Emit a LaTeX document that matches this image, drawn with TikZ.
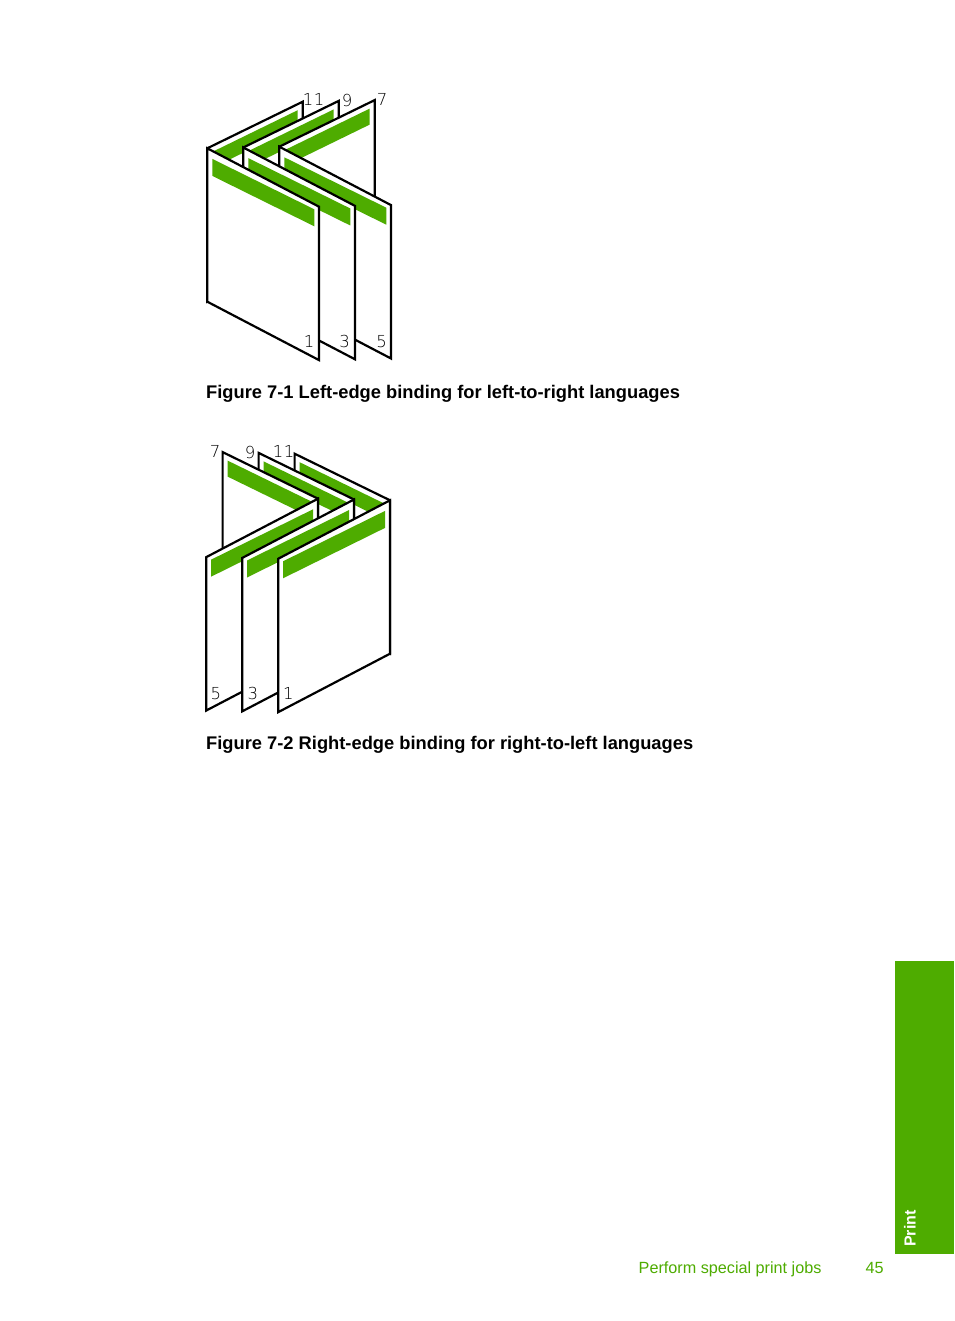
\documentclass[tikz,border=0pt]{standalone}
\usepackage{fontspec}
\setmainfont{Liberation Sans}
\newfontfamily\pagenumfont{DejaVu Sans ExtraLight}
\definecolor{hpgreen}{RGB}{78,172,0}
\tikzset{
  page/.style={draw=black,fill=white,line width=2.2pt},
  band/.style={fill=hpgreen},
  pagenum/.style={font=\pagenumfont\fontsize{16.5}{16}\selectfont,text=black,inner sep=0pt},
  figcaption/.style={font=\bfseries\fontsize{18.3}{20}\selectfont,anchor=base west,inner sep=0pt}
}

% three folded sheets, spine on the left
\newcommand{\bindingset}[1]{%
  % rear halves, back to front
  \foreach \i in {0,1,2} {
    \pgfmathsetmacro{\sx}{207.3+36*\i}
    \pgfmathsetmacro{\sy}{148.3-0.8*\i}
    \draw[page] (\sx,\sy) -- (\sx+95.4,\sy-46.6) -- (\sx+95.4,\sy+106.8) -- (\sx,\sy+153.4) -- cycle;
    \fill[band] (\sx+5,\sy+3.6) -- (\sx+90.4,\sy-38.1) -- (\sx+90.4,\sy-22.1) -- (\sx+5,\sy+19.6) -- cycle;
  }
  % front halves, the one in front last
  \foreach \i in {2,1,0} {
    \pgfmathsetmacro{\sx}{207.3+36*\i}
    \pgfmathsetmacro{\sy}{148.3-0.8*\i}
    \draw[page] (\sx,\sy) -- (\sx+111.7,\sy+58.4) -- (\sx+111.7,\sy+211.8) -- (\sx,\sy+153.4) -- cycle;
    \fill[band] (\sx+5,\sy+10.6) -- (\sx+107,\sy+61) -- (\sx+107,\sy+78) -- (\sx+5,\sy+27.6) -- cycle;
  }
  % page numbers
  \node[pagenum] (#1p1) at (309,341.5) {1};
  \node[pagenum] (#1p3) at (344.5,341.5) {3};
  \node[pagenum] (#1p5) at (381.5,341.5) {5};
  \node[pagenum] (#1p11) at (313.7,99.5) {1\kern0.6pt1};
  \node[pagenum] (#1p9) at (347.2,100) {9};
  \node[pagenum] (#1p7) at (382.2,99.5) {7};
}

\begin{document}
\begin{tikzpicture}[x=1pt,y=-1pt]
\fill[white] (0,0) rectangle (954,1321);
\useasboundingbox (0,0) rectangle (954,1321);

\bindingset{l}
\node[figcaption] (cap1) at (206,398) {Figure 7-1 Left-edge binding for left-to-right languages};

% mirrored copy
\begin{scope}[shift={(597.3,352)},xscale=-1]
\bindingset{r}
\end{scope}
\node[figcaption] (cap2) at (206,749.5) {Figure 7-2 Right-edge binding for right-to-left languages};

% side tab and footer
\fill[hpgreen] (895,961) rectangle (954,1254.3);
\node[rotate=90,anchor=base west,inner sep=0pt,text=white,font=\bfseries\fontsize{16}{16}\selectfont] (tab) at (915.7,1247) {Print};
\node[anchor=base west,inner sep=0pt,text=hpgreen,font=\fontsize{16.2}{18}\selectfont] (foot) at (638.5,1273.3) {Perform special print jobs};
\node[anchor=base west,inner sep=0pt,text=hpgreen,font=\fontsize{16.2}{18}\selectfont] (pageno) at (865.5,1273.3) {45};
\end{tikzpicture}
\end{document}
